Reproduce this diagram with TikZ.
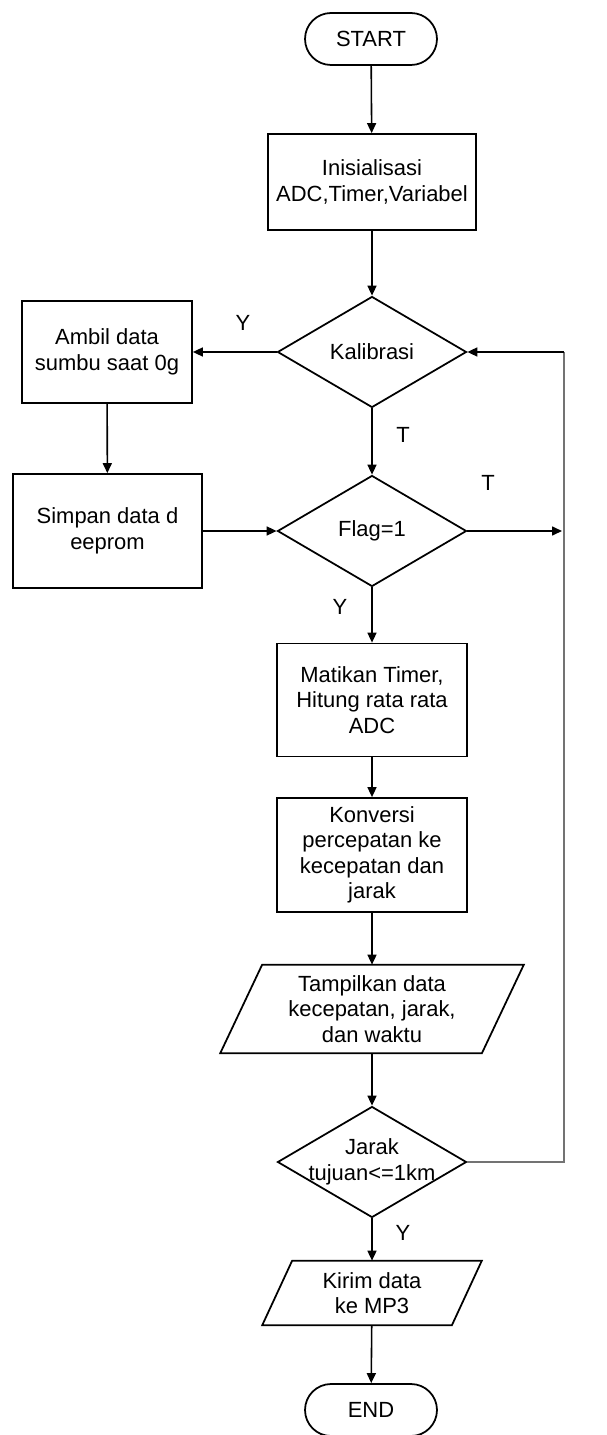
\documentclass[tikz,border=0pt]{standalone}
\usepackage{fontspec}
\setmainfont{Liberation Sans}
\usetikzlibrary{shapes.geometric,shapes.misc,arrows.meta}

\begin{document}
\begin{tikzpicture}[x=0.02cm,y=-0.02cm,
  font=\fontsize{12.5}{14.5}\selectfont,
  every node/.style={align=center,inner sep=0pt},
  box/.style={draw,rectangle,line width=1pt},
  term/.style={draw,rounded rectangle,line width=1pt,minimum width=2.64cm,minimum height=1.04cm},
  cond/.style={draw,diamond,line width=1pt,minimum width=3.78cm,minimum height=2.22cm},
  arr/.style={-{Triangle[length=0.2cm,width=0.18cm]},line width=0.9pt},
  loopline/.style={draw=black!55,line width=1.4pt}]
\useasboundingbox (0,0) rectangle (606,1435);

% main column
\node[term] (start) at (371,39) {START};
\node[box,minimum width=4.16cm,minimum height=1.92cm] (init) at (372,182) {Inisialisasi\\ADC,Timer,Variabel};
\node[cond] (kal) at (372,352) {Kalibrasi};
\node[cond] (flag) at (372,531) {Flag=1};
\node[box,minimum width=3.8cm,minimum height=2.26cm] (mati) at (372,700) {Matikan Timer,\\Hitung rata rata\\ADC};
\node[box,minimum width=3.8cm,minimum height=2.28cm] (konv) at (372,855) {Konversi\\percepatan ke\\kecepatan dan\\jarak};
\node[minimum width=5.22cm,minimum height=1.76cm] (tamp) at (372,1009) {Tampilkan data\\kecepatan, jarak,\\dan waktu};
\draw[line width=1pt] ([xshift=-0.42cm]tamp.south west) -- ([xshift=-0.42cm]tamp.south east)
  -- ([xshift=0.42cm]tamp.north east) -- ([xshift=0.42cm]tamp.north west) -- cycle;
\node[cond,label=center:{Jarak\\tujuan<=1km}] (jarak) at (372,1162) {};
\node[minimum width=3.78cm,minimum height=1.28cm] (kirim) at (372,1293) {Kirim data\\ke MP3};
\draw[line width=1pt] ([xshift=-0.3cm]kirim.south west) -- ([xshift=-0.3cm]kirim.south east)
  -- ([xshift=0.3cm]kirim.north east) -- ([xshift=0.3cm]kirim.north west) -- cycle;
\node[term] (end) at (371,1410) {END};

% left column
\node[box,minimum width=3.4cm,minimum height=2.04cm] (ambil) at (107,352) {Ambil data\\sumbu saat 0g};
\node[box,minimum width=3.78cm,minimum height=2.28cm] (simpan) at (107.5,531) {Simpan data d\\eeprom};

% loop back
\coordinate (loopBot) at (564,1162);
\coordinate (loopTop) at (564,352);
\coordinate (flagOut) at (562,531);

\draw[arr] (start) -- (init);
\draw[arr] (init) -- (kal);
\draw[arr] (kal) -- (ambil);
\draw[arr] (ambil) -- (simpan);
\draw[arr] (simpan) -- (flag);
\draw[arr] (kal) -- (flag);
\draw[arr] (flag.east) -- (flagOut);
\draw[arr] (flag) -- (mati);
\draw[arr] (mati) -- (konv);
\draw[arr] (konv) -- (tamp);
\draw[arr] (tamp) -- (jarak);
\draw[arr] (jarak) -- (kirim);
\draw[arr] (kirim) -- (end);
\draw[loopline] (jarak.east) -- (loopBot) -- (loopTop);
\draw[arr] (loopTop) -- (kal.east);

% labels
\node (yKal) at (243,323) {Y};
\node (tKal) at (403,435) {T};
\node (tFlag) at (488,483) {T};
\node (yFlag) at (340,607) {Y};
\node (yJarak) at (403,1233) {Y};
\end{tikzpicture}
\end{document}
